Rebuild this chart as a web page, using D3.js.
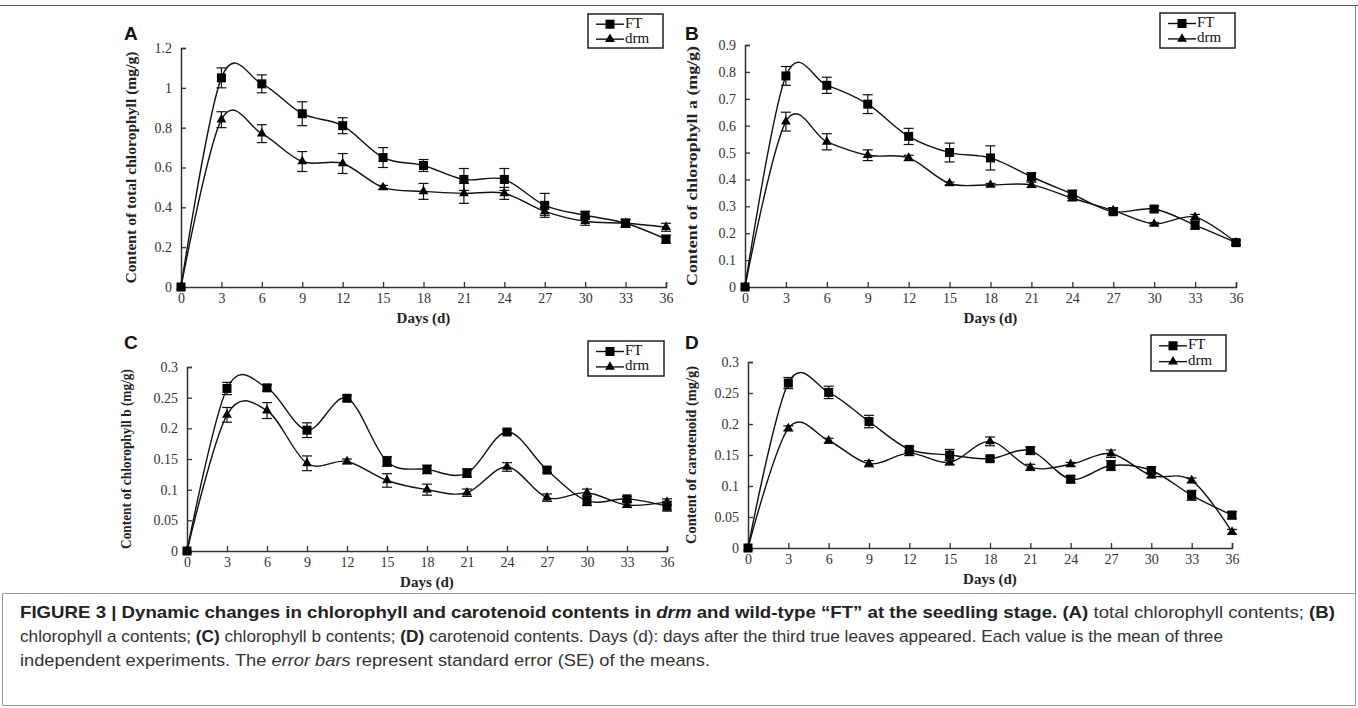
<!DOCTYPE html>
<html><head><meta charset="utf-8">
<script src="https://cdn.jsdelivr.net/npm/d3@7"></script>
<style>body{margin:0;background:#fff;} svg{display:block;}</style>
</head><body>
<svg id="c" width="1358" height="708"></svg>
<script>
// ---------- DATA ----------
const days = [0,3,6,9,12,15,18,21,24,27,30,33,36];
const seriesNames = ["FT","drm"];

// A: total chlorophyll
const ftA     = [0,1.05,1.02,0.87,0.81,0.65,0.61,0.54,0.54,0.41,0.36,0.32,0.24];
const ftErrA  = [0,0.05,0.045,0.06,0.04,0.05,0.03,0.055,0.055,0.06,0.02,0.02,0.02];
const drmA    = [0,0.84,0.77,0.63,0.62,0.50,0.48,0.47,0.47,0.38,0.33,0.32,0.30];
const drmErrA = [0,0.04,0.045,0.05,0.05,0.01,0.04,0.05,0.03,0.02,0.02,0.02,0.02];
const ticksA  = [0,0.2,0.4,0.6,0.8,1,1.2];

// B: chlorophyll a
const ftB     = [0,0.785,0.75,0.68,0.56,0.50,0.48,0.41,0.345,0.28,0.29,0.23,0.165];
const ftErrB  = [0,0.035,0.03,0.035,0.03,0.035,0.045,0.015,0.015,0.01,0.01,0.015,0.01];
const drmB    = [0,0.615,0.54,0.49,0.48,0.385,0.38,0.38,0.33,0.285,0.235,0.26,0.165];
const drmErrB = [0,0.035,0.03,0.02,0.01,0.005,0.005,0.01,0.01,0.01,0.005,0.01,0.005];
const ticksB  = [0,0.1,0.2,0.3,0.4,0.5,0.6,0.7,0.8,0.9];

// C: chlorophyll b
const ftC     = [0,0.265,0.266,0.197,0.249,0.146,0.133,0.127,0.194,0.132,0.082,0.085,0.073];
const ftErrC  = [0,0.01,0.005,0.012,0.005,0.008,0.007,0.007,0.004,0.004,0.008,0.004,0.008];
const drmC    = [0,0.222,0.229,0.143,0.146,0.115,0.100,0.095,0.137,0.087,0.095,0.075,0.08];
const drmErrC = [0,0.012,0.013,0.012,0.004,0.011,0.009,0.006,0.007,0.006,0.006,0.004,0.005];
const ticksC  = [0,0.05,0.1,0.15,0.2,0.25,0.3];

// D: carotenoid
const ftD     = [0,0.266,0.251,0.204,0.159,0.150,0.144,0.157,0.111,0.133,0.125,0.085,0.053];
const ftErrD  = [0,0.009,0.01,0.01,0.005,0.009,0.004,0.006,0.006,0.008,0.006,0.008,0.006];
const drmD    = [0,0.193,0.173,0.136,0.153,0.138,0.172,0.130,0.135,0.152,0.117,0.109,0.026];
const drmErrD = [0,0.004,0.004,0.005,0.004,0.004,0.007,0.005,0.003,0.006,0.004,0.004,0.004];
const ticksD  = [0,0.05,0.1,0.15,0.2,0.25,0.3];

const yTitles = ["Content of total chlorophyll (mg/g)","Content of chlorophyll a (mg/g)",
                 "Content of chlorophyll b (mg/g)","Content of carotenoid (mg/g)"];
const panelLetters = ["A","B","C","D"];
const xTitle = "Days (d)";

// ---------- LAYOUT ----------
const layout = [
  {l:181,r:666,t:48,b:287,lx:124,ly:40,tx:133,tl:232,leg:{x:588,y:14,w:75,h:34}},
  {l:745,r:1236,t:45,b:287,lx:685,ly:40,tx:694,tl:240,leg:{x:1160,y:13,w:75,h:35}},
  {l:187,r:667,t:367,b:551,lx:124,ly:349,tx:128,tl:180,leg:{x:588,y:341,w:76,h:35}},
  {l:748,r:1232,t:362,b:548,lx:685,ly:349,tx:693,tl:178,leg:{x:1151,y:335,w:75,h:36}}
];
const panels = [
  {ft:ftA,ftE:ftErrA,drm:drmA,drmE:drmErrA,ticks:ticksA},
  {ft:ftB,ftE:ftErrB,drm:drmB,drmE:drmErrB,ticks:ticksB},
  {ft:ftC,ftE:ftErrC,drm:drmC,drmE:drmErrC,ticks:ticksC},
  {ft:ftD,ftE:ftErrD,drm:drmD,drmE:drmErrD,ticks:ticksD}
];

const svg = d3.select('#c');
const serif = "'Liberation Serif','Times New Roman',serif";
const sans = "'Liberation Sans',Arial,Helvetica,sans-serif";

// frame
svg.append('line').attr('x1',0).attr('x2',1358).attr('y1',5.5).attr('y2',5.5).attr('stroke','#555').attr('stroke-width',1.2);
svg.append('line').attr('x1',1355.5).attr('x2',1355.5).attr('y1',5).attr('y2',706).attr('stroke','#888').attr('stroke-width',1);
svg.append('path').attr('d','M2.5,705.5 V593.5 H1355.5 V705.5 Z').attr('fill','none').attr('stroke','#999').attr('stroke-width',1);

const tri = d3.symbol().type(d3.symbolTriangle).size(42);

function drawPanel(i){
  const L = layout[i], P = panels[i];
  const x = d3.scaleLinear().domain([0,36]).range([L.l,L.r]);
  const y = d3.scaleLinear().domain([0,d3.max(P.ticks)]).range([L.b,L.t]);
  const g = svg.append('g');

  g.append('text').attr('x',L.lx).attr('y',L.ly).text(panelLetters[i])
    .attr('font-family',sans).attr('font-weight','bold').attr('font-size',19).attr('fill','#111');

  const xAxis = d3.axisBottom(x).tickValues(days).tickSize(-5).tickPadding(6).tickFormat(d3.format('d'));
  const gx = g.append('g').attr('transform',`translate(0,${L.b})`).call(xAxis);
  const yAxis = d3.axisLeft(y).tickValues(P.ticks).tickSize(-5).tickPadding(9).tickFormat(d=>String(d));
  const gy = g.append('g').attr('transform',`translate(${L.l},0)`).call(yAxis);
  [gx,gy].forEach(a=>{
    a.select('.domain').attr('stroke','#333').attr('stroke-width',1.5);
    a.selectAll('.tick line').attr('stroke','#333').attr('stroke-width',1.3);
    a.selectAll('.tick text').attr('font-family',serif).attr('font-size',14).attr('fill','#333');
  });

  g.append('text').attr('x',(L.l+L.r)/2).attr('y',L.b+36).attr('text-anchor','middle')
    .attr('font-family',serif).attr('font-weight','bold').attr('font-size',15).attr('fill','#222').text(xTitle);
  g.append('text').attr('transform',`translate(${L.tx},${(L.t+L.b)/2}) rotate(-90)`)
    .attr('text-anchor','middle').attr('dominant-baseline','middle')
    .attr('textLength',L.tl).attr('lengthAdjust','spacingAndGlyphs')
    .attr('font-family',serif).attr('font-weight','bold').attr('font-size',15).attr('fill','#222').text(yTitles[i]);

  const line = d3.line().x((d,j)=>x(days[j])).y(d=>y(d)).curve(d3.curveCardinal.tension(0));
  const series = [{v:P.drm,e:P.drmE,m:'tri'},{v:P.ft,e:P.ftE,m:'sq'}];
  series.forEach(s=>{
    g.append('path').attr('d',line(s.v)).attr('fill','none').attr('stroke','#111').attr('stroke-width',1.4);
    s.v.forEach((v,j)=>{
      if(s.e[j]<=0) return;
      const cx=x(days[j]);
      const y1=y(v-s.e[j]), y2=y(v+s.e[j]);
      g.append('line').attr('x1',cx).attr('x2',cx).attr('y1',y1).attr('y2',y2).attr('stroke','#111').attr('stroke-width',1.2);
      [y1,y2].forEach(yy=>g.append('line').attr('x1',cx-5).attr('x2',cx+5).attr('y1',yy).attr('y2',yy).attr('stroke','#111').attr('stroke-width',1.2));
    });
    s.v.forEach((v,j)=>{
      const cx=x(days[j]), cy=y(v);
      if(s.m==='sq') g.append('rect').attr('x',cx-4.5).attr('y',cy-4.5).attr('width',9).attr('height',9).attr('fill','#000');
      else g.append('path').attr('d',tri).attr('transform',`translate(${cx},${cy})`).attr('fill','#000');
    });
  });

  const lg = g.append('g').attr('transform',`translate(${L.leg.x},${L.leg.y})`);
  lg.append('rect').attr('width',L.leg.w).attr('height',L.leg.h).attr('fill','#fff').attr('stroke','#222').attr('stroke-width',1.5);
  seriesNames.forEach((nm,k)=>{
    const yy = L.leg.h*(k===0?0.3:0.74);
    lg.append('line').attr('x1',8).attr('x2',36).attr('y1',yy).attr('y2',yy).attr('stroke','#111').attr('stroke-width',1.4);
    if(k===0) lg.append('rect').attr('x',22-4.5).attr('y',yy-4.5).attr('width',9).attr('height',9).attr('fill','#000');
    else lg.append('path').attr('d',tri).attr('transform',`translate(22,${yy})`).attr('fill','#000');
    lg.append('text').attr('x',37).attr('y',yy).attr('dominant-baseline','middle')
      .attr('font-family',serif).attr('font-size',15).attr('fill','#111').text(nm);
  });
}
for(let i=0;i<4;i++) drawPanel(i);

// caption
const capLines = [
  [["FIGURE 3 | Dynamic changes in chlorophyll and carotenoid contents in ","b"],["drm","bi"],[" and wild-type \u201cFT\u201d at the seedling stage. ","b"],["(A)","b"],[" total chlorophyll contents; ","r"],["(B)","b"]],
  [["chlorophyll a contents; ","r"],["(C)","b"],[" chlorophyll b contents; ","r"],["(D)","b"],[" carotenoid contents. Days (d): days after the third true leaves appeared. Each value is the mean of three","r"]],
  [["independent experiments. The ","r"],["error bars","i"],[" represent standard error (SE) of the means.","r"]]
];
const capWidths = [1315, 1203, 690];
capLines.forEach((ln,k)=>{
  const t = svg.append('text').attr('x',20).attr('y',618+k*24)
    .attr('textLength',capWidths[k]).attr('lengthAdjust','spacingAndGlyphs')
    .attr('font-family',sans).attr('font-size',17).attr('fill','#333');
  ln.forEach(([s,st])=>{
    const ts = t.append('tspan').text(s);
    if(st.includes('b')) ts.attr('font-weight','bold').attr('fill','#222');
    if(st.includes('i')) ts.attr('font-style','italic');
  });
});
</script>
</body></html>
